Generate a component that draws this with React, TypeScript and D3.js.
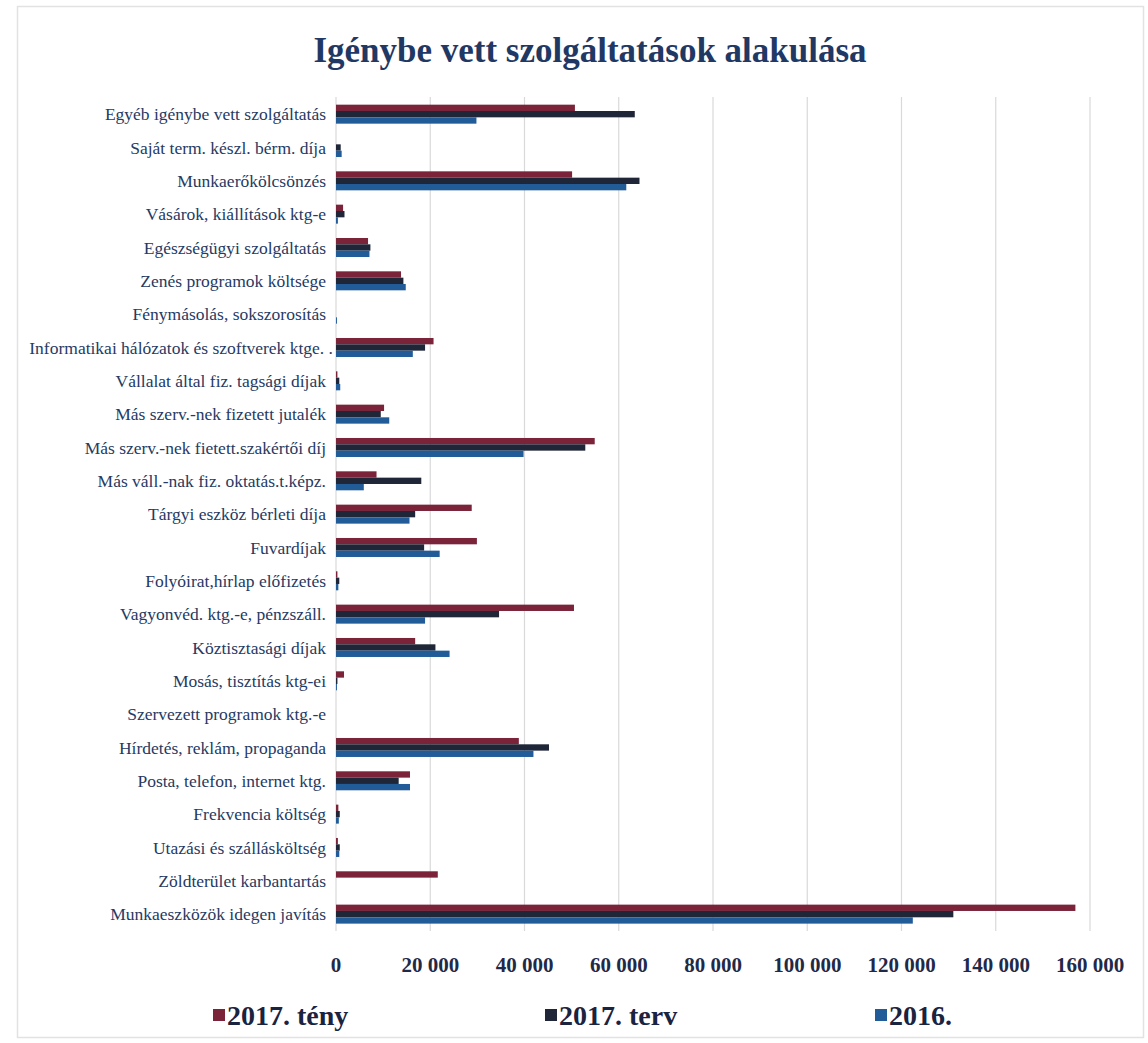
import React from "react";
import * as d3 from "d3";

const categories = [
  "Egyéb igénybe vett szolgáltatás",
  "Saját term. készl. bérm. díja",
  "Munkaerőkölcsönzés",
  "Vásárok, kiállítások ktg-e",
  "Egészségügyi szolgáltatás",
  "Zenés programok költsége",
  "Fénymásolás, sokszorosítás",
  "Informatikai hálózatok és szoftverek ktge. .",
  "Vállalat által fiz. tagsági díjak",
  "Más szerv.-nek fizetett jutalék",
  "Más szerv.-nek fietett.szakértői díj",
  "Más váll.-nak fiz. oktatás.t.képz.",
  "Tárgyi eszköz bérleti díja",
  "Fuvardíjak",
  "Folyóirat,hírlap előfizetés",
  "Vagyonvéd. ktg.-e, pénzszáll.",
  "Köztisztasági díjak",
  "Mosás, tisztítás ktg-ei",
  "Szervezett programok ktg.-e",
  "Hírdetés, reklám, propaganda",
  "Posta, telefon, internet ktg.",
  "Frekvencia költség",
  "Utazási és szállásköltség",
  "Zöldterület karbantartás",
  "Munkaeszközök idegen javítás",
];

const teny2017 = [50700, 0, 50100, 1500, 6800, 13800, 0, 20700, 300, 10200, 54900, 8600, 28800, 29900, 300, 50500, 16800, 1700, 0, 38800, 15700, 500, 400, 21600, 156900];
const terv2017 = [63400, 1000, 64400, 1800, 7300, 14300, 0, 18900, 700, 9500, 52900, 18100, 16800, 18700, 700, 34600, 21100, 300, 0, 45200, 13300, 800, 800, 0, 131000];
const ev2016 = [29800, 1200, 61600, 400, 7100, 14800, 200, 16300, 900, 11300, 39800, 5900, 15600, 22000, 500, 18900, 24100, 200, 0, 41900, 15700, 600, 700, 0, 122400];

const seriesNames = ["2017. tény", "2017. terv", "2016."];
const seriesColors = ["#7b2439", "#1e2638", "#215c98"];
const tickValues = [0, 20000, 40000, 60000, 80000, 100000, 120000, 140000, 160000];

const FONT = "'Liberation Serif', 'Times New Roman', serif";

function i7(c: string) {
  return c === categories[7];
}

export default function App() {
  const W = 1148;
  const H = 1043;
  const seriesData = [teny2017, terv2017, ev2016];

  const x = d3.scaleLinear().domain([0, 160000]).range([336, 1090]);
  const y0 = d3
    .scaleBand<string>()
    .domain(categories)
    .range([97.5, 930.8])
    .paddingInner(0.43)
    .paddingOuter(0.215);
  const y1 = d3
    .scaleBand<string>()
    .domain(seriesNames)
    .range([0, y0.bandwidth()]);

  const fmt = (v: number) => d3.format(",")(v).replace(/,/g, " ");

  const legendX = [213, 545, 875];

  return (
    <div style={{ position: "absolute", left: 0, top: 0 }}>
      <svg width={W} height={H} style={{ display: "block", background: "#fff" }}>
        <rect x={17.5} y={6.5} width={1126} height={1031} fill="#fff" stroke="#e2e2e2" strokeWidth={1.5} />
        <text
          x={590}
          y={62}
          textAnchor="middle"
          fontFamily={FONT}
          fontWeight="bold"
          fontSize={35}
          fill="#1f3864"
        >
          Igénybe vett szolgáltatások alakulása
        </text>

        {tickValues.map((t) => (
          <line
            key={"g" + t}
            x1={x(t)}
            x2={x(t)}
            y1={97}
            y2={931}
            stroke="#d9d9d9"
            strokeWidth={1.2}
          />
        ))}

        {categories.map((c, i) => (
          <g key={c} transform={`translate(0,${y0(c)})`}>
            {seriesNames.map((s, k) => (
              <rect
                key={s}
                x={x(0)}
                y={y1(s)}
                width={Math.max(0, x(seriesData[k][i]) - x(0))}
                height={y1.bandwidth()}
                fill={seriesColors[k]}
              />
            ))}
          </g>
        ))}

        {categories.map((c) => (
          <text
            key={"l" + c}
            x={i7(c) ? 333 : 326}
            y={(y0(c) as number) + y0.bandwidth() / 2}
            dy="0.35em"
            textAnchor="end"
            fontFamily={FONT}
            fontSize={17.5}
            fill="#263a63"
          >
            {c}
          </text>
        ))}

        {tickValues.map((t) => (
          <text
            key={"t" + t}
            x={x(t)}
            y={972}
            textAnchor="middle"
            fontFamily={FONT}
            fontWeight="bold"
            fontSize={21}
            fill="#1f2a48"
          >
            {fmt(t)}
          </text>
        ))}

        {seriesNames.map((s, k) => (
          <g key={"lg" + s} transform={`translate(${legendX[k]},0)`}>
            <rect x={0} y={1009} width={12} height={12} fill={seriesColors[k]} />
            <text
              x={14}
              y={1025}
              fontFamily={FONT}
              fontWeight="bold"
              fontSize={28}
              fill="#1a2340"
            >
              {s}
            </text>
          </g>
        ))}
      </svg>
    </div>
  );
}
